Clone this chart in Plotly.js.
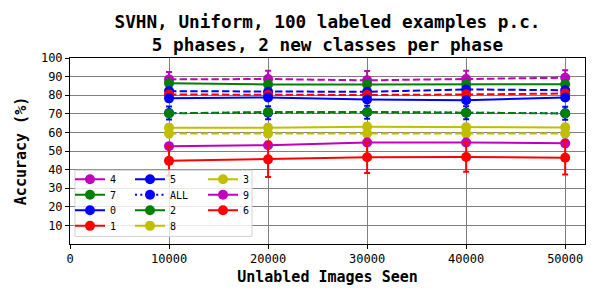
<!DOCTYPE html>
<html>
<head>
<meta charset="utf-8">
<script src="https://cdn.plot.ly/plotly-3.0.1.min.js"></script>
<style>html,body{margin:0;padding:0;background:#fff;}#chart{width:600px;height:300px;}</style>
</head>
<body>
<div id="chart"></div>
<script>
// ---- data ----
var steps = [10000, 20000, 30000, 40000, 50000];
var classNames = ['4', '7', '0', '1', '5', 'ALL', '2', '8', '3', '9', '6'];
var classColors = ['#bf00bf', '#008000', '#0000ff', '#ff0000', '#0000ff', '#0000ff', '#008000', '#bfbf00', '#bfbf00', '#bf00bf', '#ff0000'];
var classDash = ['dash', 'solid', 'dash', 'dash', 'solid', 'dot', 'dash', 'dash', 'solid', 'solid', 'solid'];

var acc4   = [88.5, 88.7, 88.0, 88.7, 89.4];
var acc7   = [86.4, 85.8, 85.8, 85.8, 85.9];
var acc0   = [82.2, 81.8, 81.8, 83.1, 82.7];
var acc1   = [80.4, 80.1, 80.1, 80.4, 80.9];
var acc5   = [78.3, 78.8, 77.7, 77.3, 78.8];
var accALL = [70.4, 70.6, 70.8, 70.6, 70.3];
var acc2   = [70.2, 71.0, 71.0, 70.6, 70.2];
var acc8   = [59.4, 59.4, 59.4, 59.4, 59.4];
var acc3   = [62.5, 62.5, 63.0, 62.7, 62.7];
var acc9   = [52.6, 53.1, 54.6, 54.6, 54.1];
var acc6   = [44.7, 45.5, 46.6, 46.8, 46.4];

var err4   = [4.0, 4.5, 5.0, 4.5, 4.0];
var err7   = [1.0, 1.0, 1.0, 1.0, 1.0];
var err0   = [1.5, 1.5, 1.5, 1.5, 1.5];
var err1   = [1.5, 1.5, 1.5, 1.5, 1.5];
var err5   = [1.5, 1.5, 1.5, 1.5, 1.5];
var errALL = [3.5, 3.5, 3.5, 3.5, 3.5];
var err2   = [1.5, 1.5, 1.5, 1.5, 1.5];
var err8   = [2.0, 2.0, 2.0, 2.0, 2.0];
var err3   = [2.0, 2.0, 2.0, 2.0, 2.0];
var err9   = [1.5, 1.5, 1.5, 1.5, 1.5];
var err6   = [8.0, 9.5, 8.4, 8.0, 9.0];

var xTicks = [0, 10000, 20000, 30000, 40000, 50000];
var yTicks = [10, 20, 30, 40, 50, 60, 70, 80, 90, 100];

var accs = [acc4, acc7, acc0, acc1, acc5, accALL, acc2, acc8, acc3, acc9, acc6];
var errs = [err4, err7, err0, err1, err5, errALL, err2, err8, err3, err9, err6];

// ---- styling ----
var MONO = 'DejaVu Sans Mono';
var dashMap = {solid: 'solid', dash: '7.4px,3.2px', dot: '2px,3.3px'};
var PL = 70, PR = 585, PT = 58, PB = 243.6; // plot area in pixels
function px2x(p) { return (p - PL) / (PR - PL); }
function px2y(p) { return (PB - p) / (PB - PT); }

var traces = [];
for (var i = 0; i < classNames.length; i++) {
  traces.push({
    type: 'scatter', mode: 'lines+markers', x: steps, y: accs[i], name: classNames[i],
    showlegend: false,
    line: {color: classColors[i], width: 2, dash: dashMap[classDash[i]]},
    marker: {color: classColors[i], size: 10, symbol: 'circle'},
    error_y: {type: 'data', array: errs[i], visible: true, color: classColors[i], thickness: 2, width: 3}
  });
}
// legend entries: one small legend per entry, laid out in 3 columns of 4 rows
var colTextX = [110, 170, 243];
var rowY = [179, 194.5, 210, 225.5];
var layoutLegends = {};
for (var j = 0; j < classNames.length; j++) {
  var col = Math.floor(j / 4), row = j % 4;
  var key = j === 0 ? 'legend' : 'legend' + (j + 1);
  traces.push({
    type: 'scatter', mode: 'lines+markers', x: [null], y: [null], name: classNames[j],
    legend: key, showlegend: true, hoverinfo: 'skip',
    line: {color: classColors[j], width: 2, dash: classDash[j] === 'dot' ? dashMap.dot : 'solid'},
    marker: {color: classColors[j], size: 10, symbol: 'circle'}
  });
  layoutLegends[key] = {
    xref: 'paper', yref: 'paper',
    x: px2x(colTextX[col] - 40), y: px2y(rowY[row]),
    xanchor: 'left', yanchor: 'middle',
    bgcolor: 'rgba(0,0,0,0)', borderwidth: 0,
    itemwidth: 30, font: {family: MONO, size: 10, color: '#000'}
  };
}

var layout = {
  width: 600, height: 300,
  margin: {l: PL, r: 600 - PR, t: PT, b: 300 - PB, autoexpand: false},
  paper_bgcolor: '#fff', plot_bgcolor: '#fff',
  title: {
    text: 'SVHN, Uniform, 100 labeled examples p.c.<br>5 phases, 2 new classes per phase',
    font: {family: MONO, size: 17.7, weight: 'bold', color: '#000'},
    xref: 'paper', x: 0.5, xanchor: 'center',
    yref: 'container', y: 1 - 28 / 300, yanchor: 'middle'
  },
  xaxis: {
    range: [0, 52000], tickmode: 'array', tickvals: xTicks, ticktext: xTicks.map(String),
    showgrid: true, gridcolor: '#808080', gridwidth: 1, zeroline: false,
    showline: true, mirror: true, linecolor: '#000', linewidth: 1,
    ticks: 'outside', ticklen: 4, tickcolor: '#000',
    tickfont: {family: MONO, size: 12, color: '#000'},
    title: {text: 'Unlabled Images Seen', font: {family: MONO, size: 15, weight: 'bold', color: '#000'}, standoff: 6}
  },
  yaxis: {
    range: [0, 100], tickmode: 'array', tickvals: yTicks, ticktext: yTicks.map(String),
    showgrid: true, gridcolor: '#808080', gridwidth: 1, zeroline: false,
    showline: true, mirror: true, linecolor: '#000', linewidth: 1,
    ticks: 'outside', ticklen: 4, tickcolor: '#000',
    tickfont: {family: MONO, size: 12, color: '#000'},
    title: {text: 'Accuracy (%)', font: {family: MONO, size: 15, weight: 'bold', color: '#000'}, standoff: 10}
  },
  shapes: [{
    type: 'rect', xref: 'paper', yref: 'paper', layer: 'above',
    x0: px2x(75), x1: px2x(252), y0: px2y(236), y1: px2y(170),
    fillcolor: 'rgba(255,255,255,0.8)', line: {color: '#d0d0d0', width: 1}
  }],
  showlegend: true
};
for (var k in layoutLegends) layout[k] = layoutLegends[k];

Plotly.newPlot('chart', traces, layout, {staticPlot: true, displayModeBar: false});
</script>
</body>
</html>
